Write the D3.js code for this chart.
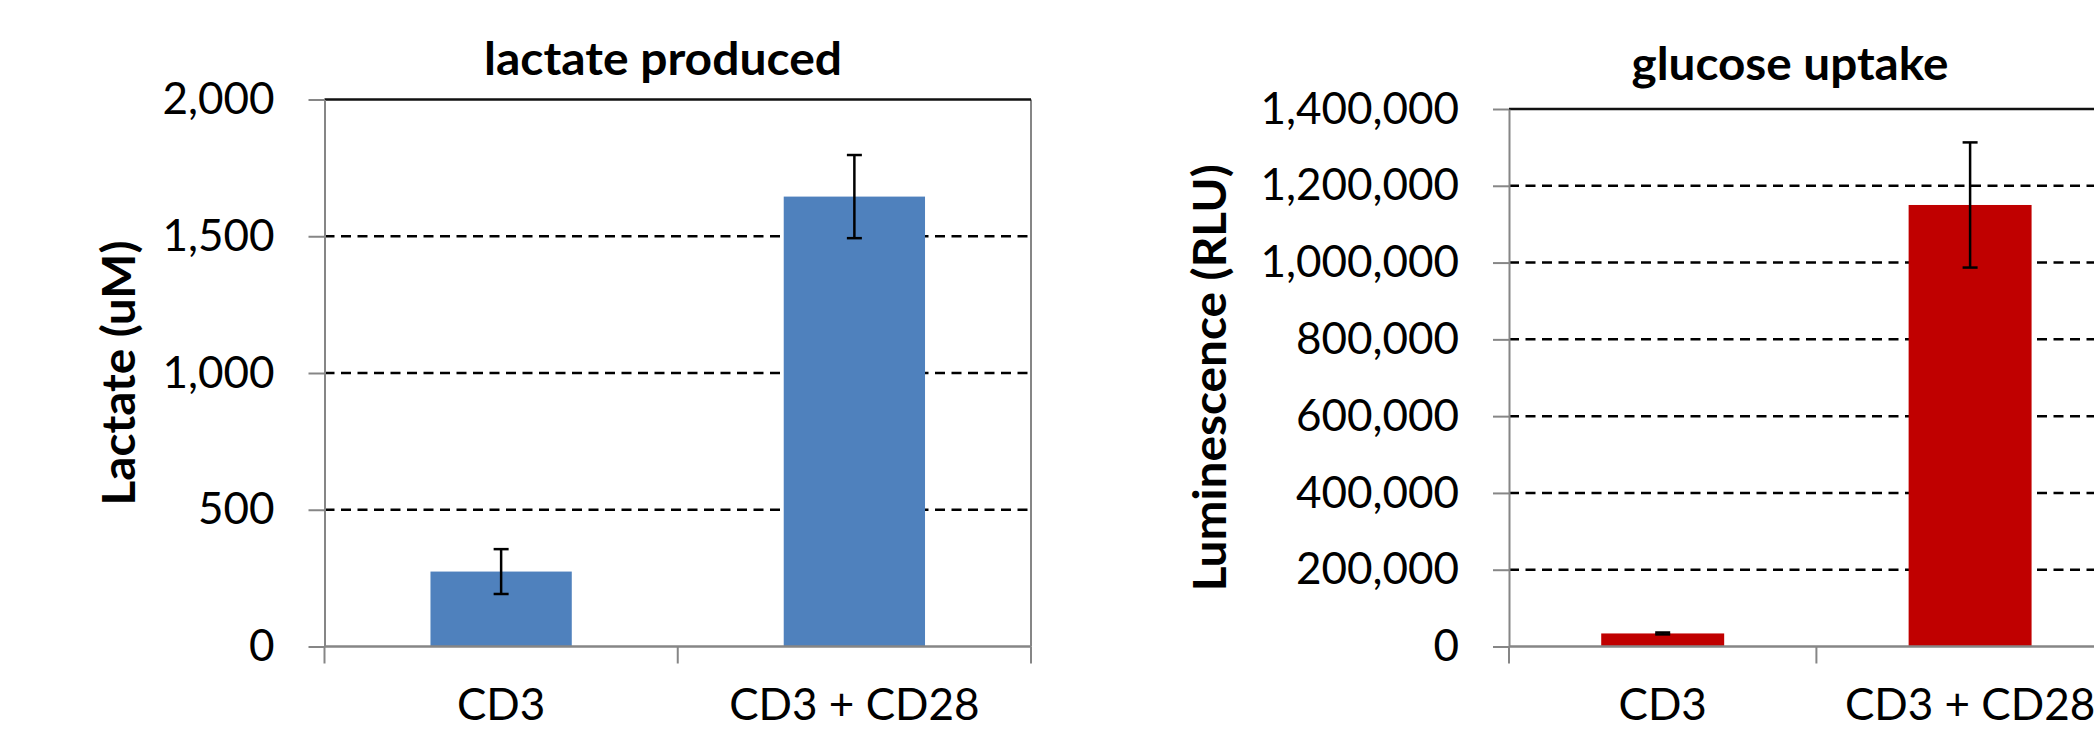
<!DOCTYPE html>
<html lang="en">
<head>
    <meta charset="UTF-8">
    <title>lactate produced / glucose uptake</title>
    <style>
        body { margin: 0; background: #fff; }
        svg { display: block; }
    </style>
</head>
<body>
    <svg id="svg" width="2094" height="731"></svg>

    <script src="https://d3js.org/d3.v7.min.js"></script>
    <script>
        // data
        const categories = ['CD3', 'CD3 + CD28']
        const lactateValues = [274, 1645]
        const lactateErrors = [82, 152]
        const lactateTicks = [0, 500, 1000, 1500, 2000]
        const glucoseValues = [34000, 1150000]
        const glucoseErrors = [2500, 163000]
        const glucoseTicks = [0, 200000, 400000, 600000, 800000, 1000000, 1200000, 1400000]

        const svg = d3.select('#svg')
        const axisGray = '#868686'
        const font = 'Lato, "Open Sans", sans-serif'

        function drawChart(opts) {
            const { values, errors, ticks, color, left, right, top, bottom } = opts
            const g = svg.append('g')
            const x = d3.scaleBand().domain(categories).range([left, right])
            const y = d3.scaleLinear().domain([0, d3.max(ticks)]).range([bottom, top])
            const rows = categories.map((c, i) => ({ c: c, v: values[i], e: errors[i] }))
            const bw = x.bandwidth()
            const cx = d => x(d.c) + bw / 2
            const maxTick = d3.max(ticks)

            // frame, right edge
            g.append('line')
                .attr('x1', right).attr('x2', right)
                .attr('y1', top).attr('y2', bottom)
                .attr('stroke', axisGray)
                .attr('stroke-width', 2)

            // gridlines: dashed, the top one reads as a solid dark line
            g.selectAll('.grid')
                .data(ticks.filter(t => t > 0))
                .enter()
                .append('line')
                .attr('x1', left)
                .attr('x2', right)
                .attr('y1', d => y(d))
                .attr('y2', d => y(d))
                .attr('stroke', d => d === maxTick ? '#111' : '#000')
                .attr('stroke-width', 2.5)
                .attr('stroke-dasharray', d => d === maxTick ? null : '10,6.5')

            // bars
            g.selectAll('.bar')
                .data(rows)
                .enter()
                .append('rect')
                .attr('x', d => x(d.c) + bw * 0.3)
                .attr('width', bw * 0.4)
                .attr('y', d => y(d.v))
                .attr('height', d => y(0) - y(d.v))
                .attr('fill', color)

            // error bars
            const eb = g.selectAll('.err')
                .data(rows)
                .enter()
                .append('g')
                .attr('stroke', '#000')
                .attr('stroke-width', 2.5)
            eb.append('line')
                .attr('x1', cx).attr('x2', cx)
                .attr('y1', d => y(d.v + d.e))
                .attr('y2', d => y(d.v - d.e))
            eb.append('line')
                .attr('x1', d => cx(d) - 7.5).attr('x2', d => cx(d) + 7.5)
                .attr('y1', d => y(d.v + d.e)).attr('y2', d => y(d.v + d.e))
            eb.append('line')
                .attr('x1', d => cx(d) - 7.5).attr('x2', d => cx(d) + 7.5)
                .attr('y1', d => y(d.v - d.e)).attr('y2', d => y(d.v - d.e))

            // y axis
            const yAxis = g.append('g')
                .attr('transform', `translate(${left},0)`)
                .call(d3.axisLeft(y)
                    .tickValues(ticks)
                    .tickSize(16)
                    .tickSizeOuter(0)
                    .tickPadding(34)
                    .tickFormat(d3.format(',')))
            yAxis.select('.domain').attr('stroke', axisGray).attr('stroke-width', 2)
            yAxis.selectAll('.tick line').attr('stroke', axisGray).attr('stroke-width', 2)
            yAxis.selectAll('.tick text')
                .attr('font-family', font)
                .attr('font-size', 44)
                .attr('fill', '#000')

            // x axis (ticks sit on the category boundaries)
            g.append('line')
                .attr('x1', left).attr('x2', right)
                .attr('y1', bottom).attr('y2', bottom)
                .attr('stroke', axisGray)
                .attr('stroke-width', 2.5)
            g.selectAll('.xtick')
                .data(categories.map(c => x(c)).concat([right]))
                .enter()
                .append('line')
                .attr('x1', d => d).attr('x2', d => d)
                .attr('y1', bottom).attr('y2', bottom + 17)
                .attr('stroke', axisGray)
                .attr('stroke-width', 2)
            g.selectAll('.xlabel')
                .data(rows)
                .enter()
                .append('text')
                .text(d => d.c)
                .attr('x', cx)
                .attr('y', opts.labelY)
                .attr('text-anchor', 'middle')
                .style('font-family', font)
                .style('font-size', '44px')

            // chart title
            g.append('text')
                .text(opts.title)
                .attr('x', opts.titleX - opts.titleLen / 2)
                .attr('y', opts.titleY)
                .attr('textLength', opts.titleLen)
                .attr('lengthAdjust', 'spacingAndGlyphs')
                .style('font-family', font)
                .style('font-weight', 'bold')
                .style('font-size', '46px')

            // y axis title
            g.append('text')
                .text(opts.yLabel)
                .attr('transform', `translate(${opts.yLabelX},${(top + bottom) / 2}) rotate(-90)`)
                .attr('x', -opts.yLabelLen / 2)
                .attr('y', 0)
                .attr('textLength', opts.yLabelLen)
                .attr('lengthAdjust', 'spacingAndGlyphs')
                .style('font-family', font)
                .style('font-weight', 'bold')
                .style('font-size', '45px')
        }

        drawChart({
            values: lactateValues, errors: lactateErrors, ticks: lactateTicks,
            color: '#4F81BD',
            left: 324.5, right: 1031, top: 99.5, bottom: 646.5,
            labelY: 720,
            title: 'lactate produced', titleX: 663, titleY: 75, titleLen: 358,
            yLabel: 'Lactate (uM)', yLabelX: 135, yLabelLen: 265
        })

        drawChart({
            values: glucoseValues, errors: glucoseErrors, ticks: glucoseTicks,
            color: '#C00000',
            left: 1509, right: 2123.8, top: 109, bottom: 646.5,
            labelY: 720,
            title: 'glucose uptake', titleX: 1790, titleY: 80, titleLen: 317,
            yLabel: 'Luminescence (RLU)', yLabelX: 1226, yLabelLen: 427
        })
    </script>
</body>
</html>
